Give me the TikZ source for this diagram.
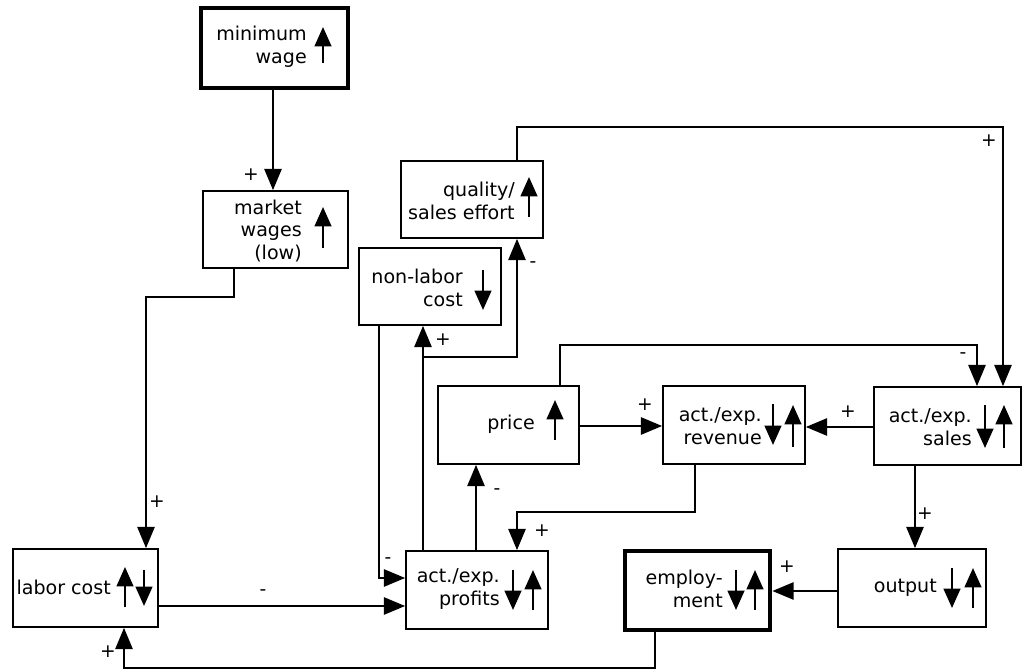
\documentclass[tikz,border=0pt]{standalone}
\usepackage{fontspec}
\setmainfont{DejaVu Sans}
\usetikzlibrary{arrows.meta,fit}
\begin{document}
\begin{tikzpicture}[x=0.75pt,y=-0.75pt,
  box/.style={draw, line width=1.3pt, inner sep=0pt},
  thickbox/.style={draw, line width=3.6pt, inner sep=0pt},
  txt/.style={anchor=east, align=right, inner sep=0pt, font=\fontsize{14.3}{17}\selectfont},
  conn/.style={line width=1.4pt, -{Triangle[length=16pt,width=13pt]}},
  glyph/.style={line width=1.7pt, -{Triangle[length=14.5pt,width=12.5pt]}},
  sgn/.style={inner sep=0pt, font=\fontsize{14}{16}\selectfont}]
\useasboundingbox (0,0) rectangle (1022,670);

% boxes
\node[thickbox, fit={(201,8)(348,88)}] (minw) {};
\node[box, fit={(203,191)(348,268)}] (mktw) {};
\node[box, fit={(401,161)(543,238)}] (qual) {};
\node[box, fit={(359,248)(501,325)}] (nonlab) {};
\node[box, fit={(438,386)(579,464)}] (price) {};
\node[box, fit={(663,386)(805,464)}] (rev) {};
\node[box, fit={(874,387)(1021,465)}] (sales) {};
\node[box, fit={(838,549)(986,627)}] (output) {};
\node[thickbox, fit={(625,551)(770,630)}] (emp) {};
\node[box, fit={(406,551)(548,629)}] (profits) {};
\node[box, fit={(13,549)(158,627)}] (labor) {};

% texts
\node[txt] (t-minw) at (307,47) {minimum\\wage};
\node[txt] (t-mktw) at (302,231) {market\\wages\\(low)};
\node[txt] (t-qual) at (515,201) {quality/\\sales effort};
\node[txt] (t-nonlab) at (463,288) {non-labor\\cost};
\node[txt] (t-price) at (535,424) {price};
\node[txt] (t-rev) at (762,426) {act./exp.\\revenue};
\node[txt] (t-sales) at (972,427) {act./exp.\\sales};
\node[txt] (t-output) at (937,588) {output};
\node[txt] (t-emp) at (723,589) {employ-\hspace{7.5pt}\\ment};
\node[txt] (t-profits) at (500,589) {act./exp.\\profits};
\node[txt] (t-labor) at (111,587) {labor cost};

% in-box arrows
\draw[glyph] (323,63) -- (323,27);
\draw[glyph] (323,248) -- (323,207);
\draw[glyph] (529,217) -- (529,177);
\draw[glyph] (483,270) -- (483,310);
\draw[glyph] (555,440) -- (555,400);
\draw[glyph] (773,404) -- (773,445);
\draw[glyph] (793,447) -- (793,405);
\draw[glyph] (985,405) -- (985,448);
\draw[glyph] (1004,448) -- (1004,405);
\draw[glyph] (952,568) -- (952,608);
\draw[glyph] (973,608) -- (973,568);
\draw[glyph] (736,570) -- (736,610);
\draw[glyph] (755,610) -- (755,570);
\draw[glyph] (513,570) -- (513,610);
\draw[glyph] (533,610) -- (533,570);
\draw[glyph] (125,607) -- (125,567);
\draw[glyph] (144,570) -- (144,606);

% connectors
\draw[conn] (minw.south -| 273,0) -- (mktw.north -| 273,0);
\node[sgn] (s1) at (251,175) {+};

\draw[conn] (mktw.south -| 234,0) -- (234,297) -- (146,297) -- (labor.north -| 146,0);
\node[sgn] (s2) at (157,502) {+};

\draw[conn] (labor.east |- 0,606) -- (profits.west |- 0,606);
\node[sgn] (s3) at (263,593) {-};

\draw[conn] (nonlab.south -| 379,0) -- (379,578) -- (profits.west |- 0,578);
\node[sgn] (s4) at (388,561) {-};

\draw[conn] (profits.north -| 423,0) -- (nonlab.south -| 423,0);
\node[sgn] (s5) at (443,340) {+};

\draw[conn] (profits.north -| 423,0) -- (423,357) -- (517,357) -- (qual.south -| 517,0);
\node[sgn] (s6) at (533,265) {-};

\draw[conn] (profits.north -| 476,0) -- (price.south -| 476,0);
\node[sgn] (s7) at (497,492) {-};

\draw[conn] (rev.south -| 695,0) -- (695,512) -- (517,512) -- (profits.north -| 517,0);
\node[sgn] (s8) at (542,531) {+};

\draw[conn] (price.east |- 0,426) -- (rev.west |- 0,426);
\node[sgn] (s9) at (645,405) {+};

\draw[conn] (price.north -| 560,0) -- (560,345) -- (977,345) -- (sales.north -| 977,0);
\node[sgn] (s10) at (963,356) {-};

\draw[conn] (qual.north -| 517,0) -- (517,127) -- (1003,127) -- (sales.north -| 1003,0);
\node[sgn] (s11) at (989,141) {+};

\draw[conn] (sales.west |- 0,427) -- (rev.east |- 0,427);
\node[sgn] (s12) at (848,412) {+};

\draw[conn] (sales.south -| 915,0) -- (output.north -| 915,0);
\node[sgn] (s13) at (925,514) {+};

\draw[conn] (output.west |- 0,591) -- (emp.east |- 0,591);
\node[sgn] (s14) at (787,567) {+};

\draw[conn] (emp.south -| 655,0) -- (655,668) -- (124,668) -- (labor.south -| 124,0);
\node[sgn] (s15) at (108,652) {+};
\end{tikzpicture}
\end{document}
